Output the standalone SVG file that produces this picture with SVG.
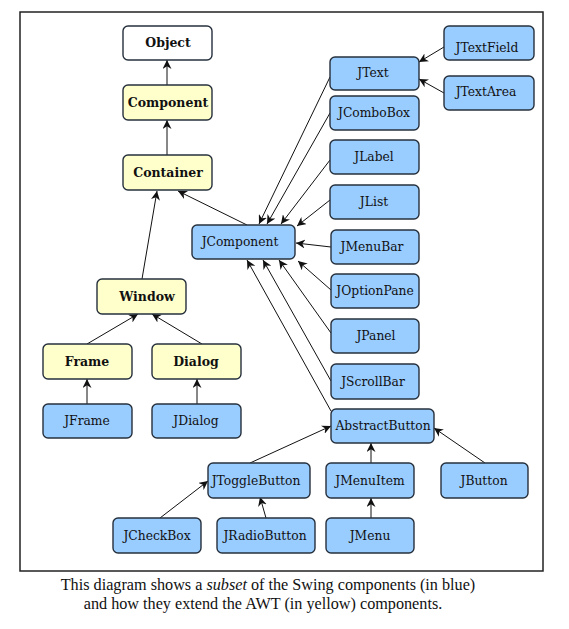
<svg xmlns="http://www.w3.org/2000/svg" width="569" height="629" viewBox="0 0 569 629">
<style>
.n rect{stroke:#26303c;stroke-width:1.4}
.y rect{fill:#ffffcc}
.b rect{fill:#99ccff}
.n text{font-family:"DejaVu Serif","Liberation Serif",serif;font-size:12.3px;fill:#111;text-anchor:middle}
.y text{font-weight:bold;font-size:12.5px}
.w rect{fill:#ffffff}
.w text{font-weight:bold;font-size:12.5px}
#edges line{stroke:#111;stroke-width:1;marker-end:url(#ah)}
.cap{font-family:"Liberation Serif","Times New Roman",serif;font-size:16.2px;fill:#111;text-anchor:middle}
</style>
<defs>
<marker id="ah" viewBox="0 0 10 10" refX="10" refY="5" markerWidth="9" markerHeight="9" orient="auto" markerUnits="userSpaceOnUse">
<path d="M0,0 L10,5 L0,10 L3,5 z" fill="#111"/>
</marker>
</defs>
<rect width="569" height="629" fill="#fff"/>
<rect x="20" y="12" width="523" height="559" fill="none" stroke="#222" stroke-width="1.5"/>

<g id="edges">
<line x1="167" y1="85" x2="167" y2="60"/>
<line x1="167" y1="155" x2="167" y2="120"/>
<line x1="142" y1="279" x2="157" y2="191"/>
<line x1="247" y1="225" x2="178" y2="191"/>
<line x1="87" y1="344" x2="138" y2="314"/>
<line x1="202" y1="344" x2="152" y2="314"/>
<line x1="87" y1="404" x2="87" y2="379"/>
<line x1="197" y1="404" x2="197" y2="379"/>
<line x1="444" y1="47" x2="419" y2="62"/>
<line x1="444" y1="93" x2="419" y2="79"/>
<line x1="330" y1="77" x2="259" y2="224"/>
<line x1="330" y1="113" x2="267" y2="224"/>
<line x1="330" y1="160" x2="281" y2="224"/>
<line x1="330" y1="200" x2="297" y2="226"/>
<line x1="331" y1="247" x2="296" y2="243"/>
<line x1="331" y1="290" x2="298" y2="261"/>
<line x1="331" y1="333" x2="279" y2="260"/>
<line x1="331" y1="381" x2="263" y2="260"/>
<line x1="331" y1="411" x2="247" y2="260"/>
<line x1="250" y1="463" x2="331" y2="426"/>
<line x1="371" y1="463" x2="371" y2="443"/>
<line x1="485" y1="463" x2="434" y2="428"/>
<line x1="160" y1="518" x2="208" y2="481"/>
<line x1="266" y1="518" x2="260" y2="497"/>
<line x1="371" y1="518" x2="371" y2="498"/>
</g>

<g id="Object" class="n w"><rect x="123" y="26" width="89" height="34" rx="5"/><text x="168" y="47">Object</text></g>
<g id="Component" class="n y"><rect x="123" y="85" width="89" height="35" rx="5"/><text x="168" y="107">Component</text></g>
<g id="Container" class="n y"><rect x="123" y="155" width="89" height="35" rx="5"/><text x="168" y="177">Container</text></g>
<g id="Window" class="n y"><rect x="97" y="279" width="89" height="35" rx="5"/><text x="147" y="301">Window</text></g>
<g id="Frame" class="n y"><rect x="43" y="344" width="89" height="35" rx="5"/><text x="87" y="366">Frame</text></g>
<g id="Dialog" class="n y"><rect x="152" y="344" width="89" height="35" rx="5"/><text x="196" y="366">Dialog</text></g>
<g id="JFrame" class="n b"><rect x="43" y="404" width="89" height="34" rx="5"/><text x="87" y="425">JFrame</text></g>
<g id="JDialog" class="n b"><rect x="152" y="404" width="89" height="34" rx="5"/><text x="196" y="425">JDialog</text></g>
<g id="JComponent" class="n b"><rect x="192" y="225" width="103" height="34" rx="5"/><text x="240" y="246">JComponent</text></g>
<g id="JText" class="n b"><rect x="330" y="57" width="89" height="33" rx="5"/><text x="373" y="77">JText</text></g>
<g id="JTextField" class="n b"><rect x="444" y="26" width="90" height="34" rx="5"/><text x="487" y="52">JTextField</text></g>
<g id="JTextArea" class="n b"><rect x="444" y="76" width="90" height="34" rx="5"/><text x="486" y="96">JTextArea</text></g>
<g id="JComboBox" class="n b"><rect x="330" y="96" width="89" height="34" rx="5"/><text x="374" y="117">JComboBox</text></g>
<g id="JLabel" class="n b"><rect x="330" y="140" width="89" height="34" rx="5"/><text x="374" y="161">JLabel</text></g>
<g id="JList" class="n b"><rect x="330" y="185" width="89" height="34" rx="5"/><text x="374" y="206">JList</text></g>
<g id="JMenuBar" class="n b"><rect x="331" y="230" width="88" height="34" rx="5"/><text x="372" y="251">JMenuBar</text></g>
<g id="JOptionPane" class="n b"><rect x="331" y="274" width="88" height="34" rx="5"/><text x="375" y="295">JOptionPane</text></g>
<g id="JPanel" class="n b"><rect x="331" y="319" width="88" height="34" rx="5"/><text x="376" y="340">JPanel</text></g>
<g id="JScrollBar" class="n b"><rect x="331" y="364" width="88" height="35" rx="5"/><text x="373" y="386">JScrollBar</text></g>
<g id="AbstractButton" class="n b"><rect x="331" y="409" width="103" height="34" rx="5"/><text x="383" y="430">AbstractButton</text></g>
<g id="JToggleButton" class="n b"><rect x="208" y="463" width="102" height="35" rx="5"/><text x="256" y="485">JToggleButton</text></g>
<g id="JMenuItem" class="n b"><rect x="326" y="463" width="88" height="35" rx="5"/><text x="370" y="485">JMenuItem</text></g>
<g id="JButton" class="n b"><rect x="441" y="463" width="87" height="35" rx="5"/><text x="484" y="485">JButton</text></g>
<g id="JCheckBox" class="n b"><rect x="113" y="518" width="88" height="35" rx="5"/><text x="157" y="540">JCheckBox</text></g>
<g id="JRadioButton" class="n b"><rect x="217" y="518" width="98" height="35" rx="5"/><text x="265" y="540">JRadioButton</text></g>
<g id="JMenu" class="n b"><rect x="326" y="518" width="88" height="35" rx="5"/><text x="370" y="540">JMenu</text></g>

<text class="cap" x="268" y="590">This diagram shows a <tspan font-style="italic">subset</tspan> of the Swing components (in blue)</text>
<text class="cap" x="263" y="609">and how they extend the AWT (in yellow) components.</text>
</svg>
